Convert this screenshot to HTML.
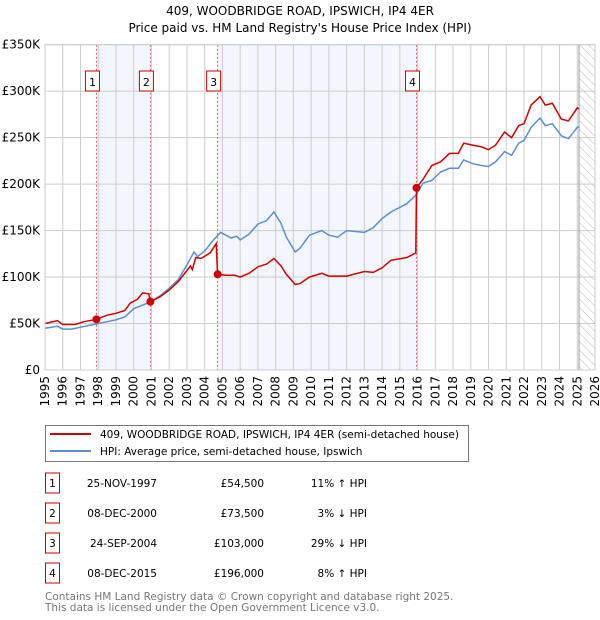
<!DOCTYPE html>
<html><head><meta charset="utf-8"><style>
body{margin:0;background:#fff;font-family:"DejaVu Sans","Liberation Sans",sans-serif;}
#wrap{position:relative;width:600px;height:620px;overflow:hidden;}
svg text{font-family:"DejaVu Sans","Liberation Sans",sans-serif;}
</style></head><body>
<div id="wrap">
<svg id="chart" width="600" height="620"></svg>
</div>
<script>
const hpiYears=[1995,1995.7,1996,1996.5,1997,1997.5,1998,1998.5,1999,1999.5,2000,2000.9,2001.5,2002,2002.5,2003,2003.4,2003.6,2004,2004.5,2004.9,2005.5,2005.8,2006,2006.5,2007,2007.5,2007.9,2008.3,2008.6,2009.1,2009.37,2009.9,2010.6,2011,2011.5,2012,2013,2013.5,2014,2014.5,2015.4,2015.9,2016.3,2016.8,2017.3,2017.8,2018.3,2018.6,2019.1,2019.6,2020,2020.4,2020.9,2021.3,2021.7,2022,2022.4,2022.9,2023.2,2023.6,2024.1,2024.5,2025,2025.1];
const hpiValues=[45,47,44,44,46,48,50,52,54,57,66,73,80,88,97,113,127,122,128,140,148,142,144,140,146,157,161,170,158,143,127,131,145,150,145,143,150,148,153,163,170,179,188,201,204,213,217,217,226,222,220,219,224,235,231,244,247,261,271,263,265,252,249,261,262];
const redYears=[1995,1995.7,1996,1996.7,1997.2,1997.5,1997.9,1998.5,1999,1999.5,1999.8,2000.2,2000.5,2000.85,2000.94,2001.5,2002,2002.5,2003,2003.2,2003.3,2003.5,2003.8,2004.3,2004.65,2004.73,2005.2,2005.7,2006,2006.5,2007,2007.5,2007.9,2008.3,2008.6,2009.1,2009.37,2009.9,2010.6,2011,2012,2013,2013.5,2014,2014.5,2015.4,2015.9,2015.94,2016.3,2016.8,2017.3,2017.8,2018.3,2018.6,2019.1,2019.6,2020,2020.4,2020.9,2021.3,2021.7,2022,2022.4,2022.9,2023.2,2023.6,2024.1,2024.5,2025,2025.1];
const redValues=[50,53,49,49,52,53,54.5,59,61,64,72,76,83,82,73.5,79,86,95,107,112,108,121,120,126,136,103,102,102,100,104,111,114,120,112,103,92,93,100,104,101,101,106,105,110,118,121,126,196,205,220,224,233,233,244,242,240,237,242,256,250,263,265,285,294,285,287,270,268,282,281];
const saleYears=[1997.9,2000.94,2004.73,2015.94];
const salePrices=[54.5,73.5,103,196];
const saleLabels=["1","2","3","4"];
const yTicks=[0,50,100,150,200,250,300,350];
const yTickLabels=["£0","£50K","£100K","£150K","£200K","£250K","£300K","£350K"];
const xTicks=[1995,1996,1997,1998,1999,2000,2001,2002,2003,2004,2005,2006,2007,2008,2009,2010,2011,2012,2013,2014,2015,2016,2017,2018,2019,2020,2021,2022,2023,2024,2025,2026];
const saleDates=["25-NOV-1997","08-DEC-2000","24-SEP-2004","08-DEC-2015"];
const salePriceText=["£54,500","£73,500","£103,000","£196,000"];
const saleHpiText=["11% ↑ HPI","3% ↓ HPI","29% ↓ HPI","8% ↑ HPI"];

const L=45,R=595,T=44.7,B=370;
const X=y=>L+(y-1995)/(2026-1995)*(R-L);
const Y=v=>B-v/350*(B-T);
const svg=document.getElementById('chart');
const NS='http://www.w3.org/2000/svg';
function mk(tag,at,parent){const e=document.createElementNS(NS,tag);for(const k in at)e.setAttribute(k,at[k]);(parent||svg).appendChild(e);return e;}
function txt(s,at,parent){const e=mk('text',at,parent);e.textContent=s;return e;}

let t;
t=txt("409, WOODBRIDGE ROAD, IPSWICH, IP4 4ER",{x:300,y:15,'text-anchor':'middle','font-size':12,fill:'#000'});

t=txt("Price paid vs. HM Land Registry's House Price Index (HPI)",{x:300,y:32,'text-anchor':'middle','font-size':12,fill:'#000'});


let e;
e=mk('rect',{x:X(saleYears[0]),y:T,width:X(saleYears[1])-X(saleYears[0]),height:B-T,fill:'#eef3fc',opacity:0.7});

e=mk('rect',{x:X(saleYears[2]),y:T,width:X(saleYears[3])-X(saleYears[2]),height:B-T,fill:'#eef3fc',opacity:0.7});

const defs=mk('defs',{});
const pat=mk('pattern',{id:'hatch',width:6,height:6,patternUnits:'userSpaceOnUse',patternTransform:'rotate(-45)'},defs);
mk('line',{x1:0,y1:0,x2:0,y2:6,stroke:'#bbb','stroke-width':1},pat);
e=mk('rect',{x:X(2025.1),y:T,width:R-X(2025.1),height:B-T,fill:'url(#hatch)'});


xTicks.forEach(yr=>{e=mk('line',{x1:X(yr),x2:X(yr),y1:T,y2:B,stroke:'#cccccc','stroke-width':1});

t=txt(String(yr),{x:0,y:0,'font-size':12,fill:'#000','text-anchor':'end',transform:`translate(${X(yr)+4},376) rotate(-90)`});
});
yTicks.forEach((v,i)=>{e=mk('line',{x1:L,x2:R,y1:Y(v),y2:Y(v),stroke:'#cccccc','stroke-width':1});

t=txt(yTickLabels[i],{x:40,y:Y(v)+4,'font-size':12,fill:'#000','text-anchor':'end'});
});
e=mk('line',{x1:X(2025.1),x2:X(2025.1),y1:T,y2:B,stroke:'#999','stroke-width':1});


saleYears.forEach((yr,i)=>{e=mk('line',{x1:X(yr),x2:X(yr),y1:T,y2:B,stroke:'#e06060','stroke-width':1,'stroke-dasharray':'2,2'});
});

function pts(xs,vs){return xs.map((x,i)=>X(x).toFixed(1)+','+Y(vs[i]).toFixed(1)).join(' ');}
e=mk('polyline',{points:pts(hpiYears,hpiValues),fill:'none',stroke:'#5b8fd0','stroke-width':1.5});

e=mk('polyline',{points:pts(redYears,redValues),fill:'none',stroke:'#cc0000','stroke-width':1.5});

saleYears.forEach((yr,i)=>{e=mk('circle',{cx:X(yr),cy:Y(salePrices[i]),r:4,fill:'#cc0000'});

const g=mk('g',{});
mk('rect',{x:X(yr)-11,y:71,width:14,height:20,fill:'#fff',stroke:'#cc0000','stroke-width':1},g);
txt(saleLabels[i],{x:X(yr)-4,y:86,'font-size':11,'text-anchor':'middle',fill:'#000'},g);});

e=mk('rect',{x:L,y:T,width:R-L,height:B-T,fill:'none',stroke:'#cccccc','stroke-width':1});


const lg=mk('g',{});
mk('rect',{x:45.5,y:425.5,width:423,height:36,fill:'#fff',stroke:'#777','stroke-width':1},lg);
mk('line',{x1:50,x2:91,y1:434,y2:434,stroke:'#cc0000','stroke-width':2},lg);
txt("409, WOODBRIDGE ROAD, IPSWICH, IP4 4ER (semi-detached house)",{x:100,y:438,'font-size':10.5,fill:'#000'},lg);
mk('line',{x1:50,x2:91,y1:451,y2:451,stroke:'#5b8fd0','stroke-width':2},lg);
txt("HPI: Average price, semi-detached house, Ipswich",{x:100,y:455,'font-size':10.5,fill:'#000'},lg);

const rowY=[483,513,543,573];
rowY.forEach((ry,i)=>{const g=mk('g',{});
mk('rect',{x:45.5,y:ry-10,width:14,height:20,fill:'#fff',stroke:'#cc0000','stroke-width':1},g);
txt(saleLabels[i],{x:52.5,y:ry+4,'font-size':10.5,'text-anchor':'middle',fill:'#000'},g);
txt(saleDates[i],{x:157,y:ry+4,'font-size':10.5,'text-anchor':'end',fill:'#000'},g);
txt(salePriceText[i],{x:264,y:ry+4,'font-size':10.5,'text-anchor':'end',fill:'#000'},g);
txt(saleHpiText[i],{x:367,y:ry+4,'font-size':10.5,'text-anchor':'end',fill:'#000'},g);});

t=txt("Contains HM Land Registry data © Crown copyright and database right 2025.",{x:45,y:600,'font-size':10.5,fill:'#777'});

t=txt("This data is licensed under the Open Government Licence v3.0.",{x:45,y:611,'font-size':10.5,fill:'#777'});

</script>
</body></html>
